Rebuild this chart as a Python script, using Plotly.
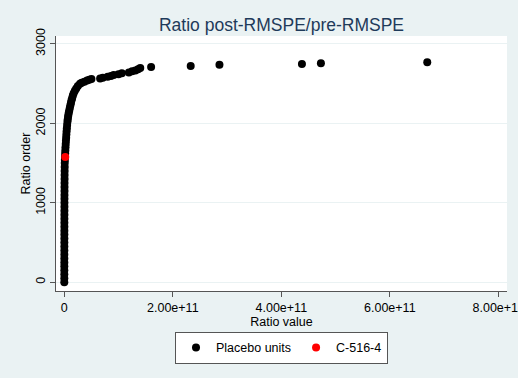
import plotly.graph_objects as go
import numpy as np

# Placebo units: ratio order (y) and ratio value in billions (x)
placebo_rank = [1, 50, 100, 150, 200, 250, 300, 350, 400, 450, 500, 550, 600, 650,
                700, 750, 800, 850, 900, 950, 1000, 1050, 1100, 1150, 1200, 1250,
                1300, 1350, 1400, 1450, 1500, 1540, 1580, 1620, 1660, 1700, 1740,
                1780, 1820, 1860, 1900, 1940, 1980, 2020, 2050, 2080, 2110, 2140,
                2170, 2200, 2230, 2260, 2290, 2320, 2350, 2380, 2410, 2440, 2470,
                2500, 2510, 2525, 2540, 2550, 2558, 2566, 2575, 2588, 2598, 2610,
                2620, 2630, 2640, 2655, 2667, 2680, 2696, 2710, 2722, 2738, 2748,
                2756, 2771]
placebo_value_bn = [0.0, 0.01, 0.02, 0.03, 0.04, 0.05, 0.06, 0.07, 0.08, 0.09, 0.1,
                    0.11, 0.12, 0.13, 0.14, 0.15, 0.17, 0.19, 0.21, 0.23, 0.25, 0.28,
                    0.31, 0.34, 0.38, 0.42, 0.47, 0.52, 0.6, 0.7, 0.8, 1.0, 1.3, 1.6,
                    1.9, 2.2, 2.6, 3.0, 3.4, 3.8, 4.2, 4.7, 5.2, 5.8, 6.3, 6.9, 7.6,
                    8.4, 9.3, 10.3, 11.3, 12.3, 13.3, 14.5, 15.8, 17.3, 19.5, 22.0,
                    25.0, 29.0, 32.0, 37.0, 42.0, 46.0, 50.0, 66.0, 71.0, 80.0, 86.0,
                    91.0, 100.0, 106.0, 119.0, 125.0, 131.0, 136.0, 140.0, 160.0,
                    233.0, 286.0, 438.0, 473.0, 669.0]

treated_rank = [1576]
treated_value_bn = [1.8]

x_ticks = [0, 2e11, 4e11, 6e11, 8e11]
x_tick_labels = ["0", "2.00e+11", "4.00e+11", "6.00e+11", "8.00e+11"]
y_ticks = [0, 1000, 2000, 3000]
y_tick_labels = ["0", "1000", "2000", "3000"]

BG = "#EAF2F3"
AX = "#555555"

fig = go.Figure()
fig.add_trace(go.Scatter(
    x=np.array(placebo_value_bn) * 1e9, y=placebo_rank, mode="markers",
    name="Placebo units",
    marker=dict(color="black", size=8, line=dict(width=0)),
))
fig.add_trace(go.Scatter(
    x=np.array(treated_value_bn) * 1e9, y=treated_rank, mode="markers",
    name="C-516-4",
    marker=dict(color="#FF0000", size=8, line=dict(width=0)),
))

fig.update_layout(
    width=518, height=378,
    margin=dict(l=56, r=11, t=36, b=87, autoexpand=False),
    paper_bgcolor=BG, plot_bgcolor="white",
    font=dict(family="Liberation Sans, Arial, sans-serif", size=12, color="black"),
    title=dict(text="Ratio post-RMSPE/pre-RMSPE", x=0.5, xref="paper", xanchor="center",
               y=1 - 25 / 378, yanchor="middle",
               font=dict(size=17.5, color="#1E3A5A")),
    showlegend=True,
    legend=dict(orientation="h", x=0.5, xanchor="center", y=-0.16, yanchor="top",
                bgcolor="white", bordercolor=AX, borderwidth=1,
                font=dict(size=12.5), itemwidth=30, tracegroupgap=0),
    xaxis=dict(range=[-1.53e10, 8.16e11], tickvals=x_ticks, ticktext=x_tick_labels,
               showgrid=False, zeroline=False, showline=True, linecolor=AX, linewidth=1,
               ticks="outside", ticklen=5, tickcolor=AX, ticklabeloverflow="allow",
               tickfont=dict(size=12.5), automargin=False,
               title=dict(text="Ratio value", standoff=1, font=dict(size=12.5))),
    yaxis=dict(range=[-110, 3100], tickvals=y_ticks, ticktext=y_tick_labels,
               tickangle=-90, showgrid=True, gridcolor=BG, gridwidth=1,
               zeroline=False, showline=True, linecolor=AX, linewidth=1,
               ticks="outside", ticklen=5, tickcolor=AX, tickfont=dict(size=12.5),
               automargin=False,
               title=dict(text="Ratio order", standoff=0, font=dict(size=12.5))),
)

fig.write_html("out.html")
